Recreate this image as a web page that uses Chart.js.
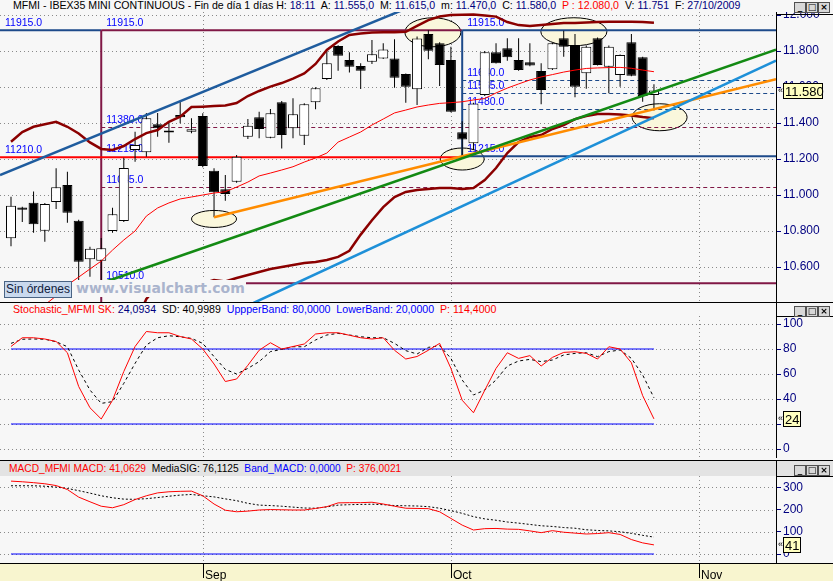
<!DOCTYPE html>
<html lang="es"><head><meta charset="utf-8">
<script src="https://cdn.jsdelivr.net/npm/chart.js@4.4.1/dist/chart.umd.min.js"></script>
<style>
html,body{margin:0;padding:0;}
body{width:833px;height:581px;position:relative;overflow:hidden;background:#f7f7f7;font-family:"Liberation Sans",Arial,sans-serif;}
canvas{position:absolute;left:0;}
#cPrice{top:12px;} #cStoch{top:316px;} #cMacd{top:476px;}
.hdr{position:absolute;font-size:10.6px;line-height:13px;white-space:pre;color:#000;}
.n{color:#000080}.r{color:#ff0000}.b{color:#0000ff}
.hl{position:absolute;height:1px;background:#000;}
.vl{position:absolute;width:1px;background:#000;}
.btn{position:absolute;width:10px;height:9px;border:1px solid #505050;background:#d8d8d8;font:bold 9px "DejaVu Sans",sans-serif;line-height:9px;text-align:center;color:#000;}
#sin{position:absolute;left:4px;top:281px;width:66px;height:15px;border:1px solid #4a6484;background:#c9d9ee;color:#10203c;font-size:12px;line-height:15px;text-align:center;}
#wm{position:absolute;left:75px;top:280px;height:17px;line-height:17px;font:bold 14px "DejaVu Sans",sans-serif;color:#aab4cd;background:#f7f7f7;padding:0 1px;}
#macdHdrBg{position:absolute;left:0;top:461px;width:833px;height:15px;background:#e3e3e3;}
</style>
</head><body>
<div id="macdHdrBg"></div>
<canvas id="cPrice" width="833" height="290"></canvas>
<canvas id="cStoch" width="833" height="142"></canvas>
<canvas id="cMacd" width="833" height="105"></canvas>

<div class="hdr" style="left:13px;top:-1px">MFMI - IBEX35 MINI CONTINUOUS - Fin de día 1 días H: <span class="n">18:11</span>  A: <span class="n">11.555,0</span>  M: <span class="n">11.615,0</span>  m: <span class="n">11.470,0</span>  C: <span class="n">11.580,0</span>  <span class="r">P : 12.080,0</span>  V: <span class="n">11.751</span>  F: <span class="n">27/10/2009</span></div>
<div class="hdr" style="left:13px;top:303px"><span class="r">Stochastic_MFMI SK:</span> <span class="n">24,0934</span>  SD: 40,9989  <span class="b">UppperBand: 80,0000</span>  <span class="b">LowerBand: 20,0000</span>  <span class="r">P: 114,4000</span></div>
<div class="hdr" style="left:9px;top:462px;font-size:10.2px"><span class="r">MACD_MFMI MACD: 41,0629</span>  MediaSIG: 76,1125  <span class="b">Band_MACD: 0,0000</span>  <span class="r">P: 376,0021</span></div>

<div class="hl" style="left:0;top:302px;width:833px"></div>
<div class="hl" style="left:776px;top:14px;width:57px"></div>
<div class="hl" style="left:776px;top:316px;width:57px"></div>
<div class="vl" style="left:776px;top:302px;height:14px"></div>
<div class="hl" style="left:0;top:460px;width:833px"></div>
<div class="hl" style="left:776px;top:476px;width:57px"></div>
<div class="vl" style="left:776px;top:460px;height:16px"></div>

<div id="sin">Sin órdenes</div>
<div id="wm">www.visualchart.com</div>

<script>
// ---------- DATA ----------
const dates = ['07/08','10/08','11/08','12/08','13/08','14/08','17/08','18/08','19/08','20/08','21/08','24/08','25/08','26/08','27/08','28/08','31/08',
 '01/09','02/09','03/09','04/09','07/09','08/09','09/09','10/09','11/09','14/09','15/09','16/09','17/09','18/09','21/09','22/09','23/09','24/09','25/09','28/09','29/09','30/09',
 '01/10','02/10','05/10','06/10','07/10','08/10','09/10','12/10','13/10','14/10','15/10','16/10','19/10','20/10','21/10','22/10','23/10','26/10','27/10'];
const monthLabels = ['Sep','Oct','Nov'];
const monthStartIdx = [17, 39, 61];

const opens  = [10760,10930,10957,10802,10961,11056,10857,10643,10635,10800,10856,11250,11237,11393,11358,11444,11352,11439,11135,11032,11074,11324,11432,11318,11515,11371,11329,11515,11644,11828,11750,11717,11741,11759,11759,11672,11587,11894,11843,11750,11348,11287,11556,11793,11815,11750,11737,11689,11698,11871,11833,11676,11871,11713,11667,11848,11765,11555];
const highs  = [10990,10935,11020,10955,11148,11129,10862,10713,10761,10929,11207,11352,11456,11456,11400,11524,11426,11454,11148,11111,11222,11422,11463,11478,11522,11537,11510,11598,11800,11832,11793,11732,11861,11843,11865,11675,11880,11915,11848,11824,11410,11512,11800,11843,11871,11871,11843,11732,11845,11913,11894,11830,11875,11830,11780,11894,11768,11615];
const lows   = [10715,10850,10790,10740,10922,10846,10528,10546,10510,10790,10850,11185,11213,11324,11291,11398,11343,11154,10876,10968,11068,11311,11315,11315,11259,11315,11278,11476,11639,11691,11680,11589,11728,11755,11596,11513,11500,11754,11606,11460,11215,11250,11550,11730,11746,11690,11715,11504,11695,11768,11543,11590,11720,11565,11602,11660,11518,11470];
const closes = [10940,10918,10837,10950,11043,10902,10629,10702,10704,10893,11150,11278,11426,11371,11347,11432,11365,11161,11015,11006,11213,11385,11367,11454,11333,11448,11504,11593,11732,11774,11713,11691,11782,11809,11652,11602,11870,11802,11722,11463,11309,11509,11793,11732,11765,11694,11720,11583,11843,11824,11602,11824,11722,11824,11778,11663,11550,11580];

const bbUpper = [11296,11350,11379,11393,11407,11379,11342,11292,11256,11250,11272,11311,11344,11361,11407,11435,11489,11491,11494,11497,11511,11550,11578,11602,11622,11647,11675,11728,11806,11853,11889,11897,11903,11904,11904,11907,11939,11972,11992,12000,12002,12003,11997,11991,11961,11944,11939,11944,11950,11956,11956,11958,11961,11963,11963,11963,11961,11957];
const bbMiddle = [10230,10290,10340,10390,10439,10500,10544,10589,10633,10694,10750,10800,10883,10928,10956,10978,10989,11000,11011,11018,11044,11072,11106,11122,11139,11157,11183,11206,11233,11294,11322,11350,11389,11422,11456,11472,11489,11500,11509,11513,11518,11528,11536,11567,11594,11617,11639,11656,11669,11683,11694,11703,11706,11708,11709,11704,11694,11685];
const bbLower = [9164,9230,9301,9387,9471,9621,9746,9886,10010,10138,10228,10289,10422,10495,10505,10521,10489,10509,10528,10520,10539,10556,10572,10589,10600,10611,10622,10628,10639,10656,10690,10780,10860,10933,10989,11017,11028,11033,11039,11039,11033,11039,11083,11150,11233,11294,11322,11333,11367,11389,11422,11439,11450,11450,11447,11442,11433,11426];

const stochK = [82,89,89,88,86,77,50,33,24,39,62,82,94,93,93,90,88,80,68,54,56,67,79,85,80,82,84,92,93,93,91,89,88,89,79,72,74,79,84.5,64.5,39,29,47,64.5,77,72.5,74.7,66.4,73.3,77.3,77.8,76.5,72,81.8,80,69,42.7,24.1];
const stochD = [84.5,87.8,88,87.8,85.8,81.8,63.2,47.2,36.5,37.9,52.5,68.5,83.2,89,90.6,89.8,88.5,84.5,73.9,63.7,60,64.5,69.9,77.9,79.7,81.8,81.8,87.2,91.2,92.5,91.2,89.8,89,89,84.5,78.7,76,81.3,82.7,72.5,55.2,43.2,47.2,55.2,66.4,70.4,71.7,69.9,71.2,75.2,76.5,77,73.9,77.9,79.2,72.5,59.2,41];
const stochBands = [80, 20];

const macdLine = [328,325,321,316,308,290,256,235,215,208,222,245,262,275,280,282,283,262,225,197,190,193,198,200,199,198,198,205,213,230,231,231,233,225,215,206,205,204,190,160,130,108,114,115,112,111,104,96,105,98,94,90,92,96,88,65,50,41];
const macdSignal = [307,307,307,305,301,295,285,274,262,253,247,246,249,254,260,265,268,262,257,248,240,228,220,218,215,211,207,206,212,220,222,223,224,222,218,217,216,213,206,195,183,168,158,152,144,139,133,127,124,119,116,109,106,104,100,93,84,76];
const macdBand = 0;

// axis tick values
const priceTicks = [10600,10800,11000,11200,11400,11600,11800,12000];
const stochTicks = [0,20,40,60,80,100];
const macdTicks = [0,100,200,300];

// drawn levels (prices) and their anchor days
const anchorA = 8;   // 19/08
const anchorB = 40;  // 02/10
const levelTop = 11915, levelRed = 11210, levelBoxLow = 11215, levelLow = 10510;
const levelsDashA = [11380, 11045];
const levelsDashB = [11640, 11565, 11480];
// trend lines [index, price]
const trendBlue = [[-0.975, 11111], [35, 12035]];
const trendLightBlue = [[21.5, 10400], [67.82, 11747]];
const trendGreen = [[8, 10510], [67.82, 11807]];
const trendOrange = [[18, 10876], [67.82, 11643]];
// marked zones (index, price)
const zoneIdx = [18, 40, 37.4, 49.9, 57.5];
const zonePrice = [10867, 11200, 11904, 11907, 11432];

// ---------- STYLE ----------
const FONT = '"Liberation Sans", Arial, sans-serif';
const X_MIN = -0.975, X_MAX = 67.82;
const NAVY = '#1d4a8a', MAROON = '#801846', BAND = '#8b0000';
const ZONE_R = [[22.5,8.5],[22,11],[28,14.5],[33,14],[27.5,13.5]];
const N = closes.length;
const series = arr => arr.map((v,i)=>({x:i,y:v}));
const seg2 = p => p.map(q=>({x:q[0],y:q[1]}));

function xScale(){ return {type:'linear', min:X_MIN, max:X_MAX, display:false, offset:false}; }
function yAxis(min,max,tickVals,fmt){
  return {type:'linear', position:'right', min, max,
    afterBuildTicks(s){ s.ticks = tickVals.map(v=>({value:v})); },
    afterFit(s){ s.width = 57; s.paddingTop = 0; s.paddingBottom = 0; },
    grid:{drawOnChartArea:false, drawTicks:true, tickLength:5, tickColor:'#000080', tickWidth:1},
    border:{display:true, color:'#000', width:1},
    ticks:{color:'#000080', padding:2, font:{family:FONT,size:12}, callback: fmt}};
}
function drawDots(ctx,a,x,y){
  ctx.save();
  ctx.strokeStyle='#8a8a8a'; ctx.lineWidth=1; ctx.setLineDash([1,3]);
  y.ticks.forEach(t=>{ const py=Math.round(y.getPixelForValue(t.value))+0.5;
    ctx.beginPath(); ctx.moveTo(a.left,py); ctx.lineTo(a.right,py); ctx.stroke(); });
  monthStartIdx.forEach(i=>{ const px=Math.round(x.getPixelForValue(i))+0.5;
    ctx.beginPath(); ctx.moveTo(px,a.top); ctx.lineTo(px,a.bottom); ctx.stroke(); });
  ctx.restore();
}
function valueBox(chart, v, text, w){
  const {ctx, scales:{y}, chartArea:a} = chart;
  const py = Math.round(y.getPixelForValue(v));
  ctx.save();
  ctx.fillStyle='#ffffc0'; ctx.strokeStyle='#000'; ctx.lineWidth=1;
  ctx.fillRect(a.right+7, py-8, w, 16); ctx.strokeRect(a.right+7.5, py-7.5, w-1, 15);
  ctx.fillStyle='#000'; ctx.font='13px '+FONT; ctx.textBaseline='middle'; ctx.textAlign='left';
  ctx.fillText(text, a.right+9, py+1);
  ctx.font='9px '+FONT; ctx.fillText('«', a.right+2, py);
  ctx.restore();
}
const common = {responsive:false, animation:false, events:[], layout:{padding:0},
  plugins:{legend:{display:false}, tooltip:{enabled:false}},
  elements:{point:{radius:0}, line:{tension:0}}};

// ---------- PRICE ----------
const priceDeco = {
  id:'priceDeco',
  beforeDatasetsDraw(chart){
    const {ctx, chartArea:a, scales:{x,y}} = chart;
    drawDots(ctx,a,x,y);
    ctx.save();
    ctx.beginPath(); ctx.rect(a.left,a.top,a.right-a.left,a.bottom-a.top); ctx.clip();
    const X = i=>x.getPixelForValue(i), Y = v=>y.getPixelForValue(v);
    zoneIdx.forEach((i,k)=>{
      ctx.beginPath(); ctx.ellipse(X(i),Y(zonePrice[k]),ZONE_R[k][0],ZONE_R[k][1],0,0,Math.PI*2);
      ctx.fillStyle='#faf7dc'; ctx.fill(); ctx.strokeStyle='#000'; ctx.lineWidth=1; ctx.stroke();
    });
    const line=(x0,y0,x1,y1,c,w,d)=>{ctx.beginPath();ctx.setLineDash(d||[]);ctx.strokeStyle=c;ctx.lineWidth=w;ctx.moveTo(x0,y0);ctx.lineTo(x1,y1);ctx.stroke();};
    const xa=X(anchorA), xb=X(anchorB);
    levelsDashA.forEach(v=>line(xa,Math.round(Y(v))+0.5,a.right,Math.round(Y(v))+0.5,MAROON,1,[4,3]));
    levelsDashB.forEach(v=>line(xb,Math.round(Y(v))+0.5,a.right,Math.round(Y(v))+0.5,NAVY,1,[4,3]));
    line(a.left,Y(levelTop),xa,Y(levelTop),NAVY,2);
    line(xb,Y(levelTop),a.right,Y(levelTop),NAVY,2);
    line(xa,Y(levelTop),xb,Y(levelTop),MAROON,2);
    line(xa,Y(levelTop),xa,a.bottom,MAROON,2);
    line(xa,Y(levelLow),a.right,Y(levelLow),MAROON,2);
    line(a.left,Y(levelRed),xb,Y(levelRed),'#ff0000',2);
    line(xb,Y(levelBoxLow),a.right,Y(levelBoxLow),NAVY,2);
    line(xb,Y(levelTop),xb,Y(levelBoxLow),NAVY,2);
    ctx.setLineDash([]);
    ctx.fillStyle='#0000ff'; ctx.font='10.5px '+FONT; ctx.textBaseline='alphabetic'; ctx.textAlign='left';
    const lab=(px,v)=>ctx.fillText(v.toFixed(1), px+5, Y(v)-4);
    lab(a.left,levelTop); lab(a.left,levelRed);
    [levelTop,levelsDashA[0],levelBoxLow,levelsDashA[1],levelLow].forEach(v=>lab(xa,v));
    [levelTop,...levelsDashB,levelBoxLow].forEach(v=>lab(xb,v));
    ctx.restore();
  },
  afterDraw(chart){ valueBox(chart, closes[N-1], (closes[N-1]/1000).toFixed(3), 40); }
};
const trendDs = (pts,color)=>({type:'line', data:seg2(pts), borderColor:color, borderWidth:2.5, order:0});
new Chart(document.getElementById('cPrice'), {
  type:'line',
  data:{labels:dates, datasets:[
    trendDs(trendBlue,'#1f5c9e'),
    trendDs(trendLightBlue,'#1e90d8'),
    trendDs(trendGreen,'#138a13'),
    trendDs(trendOrange,'#ff8c00'),
    {type:'line', label:'Media', data:series(bbMiddle), borderColor:'#ff0000', borderWidth:1, order:1},
    {type:'line', label:'Banda sup.', data:series(bbUpper), borderColor:BAND, borderWidth:2.5, order:1},
    {type:'line', label:'Banda inf.', data:series(bbLower), borderColor:BAND, borderWidth:2.5, order:1},
    {type:'bar', label:'Cuerpo', data:dates.map((d,i)=>({x:i,y:[opens[i],closes[i]]})),
      backgroundColor:dates.map((d,i)=>closes[i]>=opens[i]?'#ffffff':'#000000'),
      borderColor:'#000', borderWidth:1, borderSkipped:false, barThickness:10, grouped:false, inflateAmount:0, order:2},
    {type:'bar', label:'Mecha', data:dates.map((d,i)=>({x:i,y:[lows[i],highs[i]]})),
      backgroundColor:'#000', borderWidth:0, barThickness:1, grouped:false, inflateAmount:0, order:3}
  ]},
  options:Object.assign({}, common, {scales:{x:xScale(), y:yAxis(10405.6, 12016.7, priceTicks, v=>(v/1000).toFixed(3))}}),
  plugins:[priceDeco]
});

// ---------- STOCHASTIC ----------
const stochDeco = {id:'stochDeco',
  beforeDatasetsDraw(chart){ drawDots(chart.ctx, chart.chartArea, chart.scales.x, chart.scales.y); },
  afterDraw(chart){ valueBox(chart, stochK[N-1], String(Math.round(stochK[N-1])), 18); }};
new Chart(document.getElementById('cStoch'), {
  type:'line',
  data:{datasets:[
    {label:'SK', data:series(stochK), borderColor:'#ff0000', borderWidth:1, order:0},
    {label:'SD', data:series(stochD), borderColor:'#000', borderWidth:1, borderDash:[3,3], order:1},
    {label:'UpperBand', data:[{x:0,y:stochBands[0]},{x:N-1,y:stochBands[0]}], borderColor:'#0000ff', borderWidth:1, order:2},
    {label:'LowerBand', data:[{x:0,y:stochBands[1]},{x:N-1,y:stochBands[1]}], borderColor:'#0000ff', borderWidth:1, order:2}
  ]},
  options:Object.assign({}, common, {scales:{x:xScale(), y:yAxis(-7.2, 106.4, stochTicks, v=>String(v))}}),
  plugins:[stochDeco]
});

// ---------- MACD ----------
const macdDeco = {id:'macdDeco',
  beforeDatasetsDraw(chart){ drawDots(chart.ctx, chart.chartArea, chart.scales.x, chart.scales.y); },
  afterDraw(chart){
    const {ctx, chartArea:a, scales:{x}} = chart;
    valueBox(chart, macdLine[N-1], String(Math.round(macdLine[N-1])), 18);
    ctx.save();
    ctx.fillStyle='#f8f5cf'; ctx.fillRect(0, a.bottom, chart.width, chart.height-a.bottom);
    ctx.fillStyle='#000'; ctx.fillRect(0, a.bottom, chart.width, 1);
    ctx.font='12px '+FONT; ctx.textBaseline='alphabetic'; ctx.textAlign='left';
    monthStartIdx.forEach((i,k)=>{
      const px=Math.round(x.getPixelForValue(i));
      ctx.fillRect(px, a.bottom, 1, 15);
      ctx.fillText(monthLabels[k], px+2, a.bottom+16);
    });
    ctx.restore();
  }};
new Chart(document.getElementById('cMacd'), {
  type:'line',
  data:{datasets:[
    {label:'MACD', data:series(macdLine), borderColor:'#ff0000', borderWidth:1, order:0},
    {label:'MediaSIG', data:series(macdSignal), borderColor:'#000', borderWidth:1, borderDash:[2,2], order:1},
    {label:'Band_MACD', data:[{x:0,y:macdBand},{x:N-1,y:macdBand}], borderColor:'#0000ff', borderWidth:1, order:2}
  ]},
  options:Object.assign({}, common, {layout:{padding:{bottom:18}}, scales:{x:xScale(), y:yAxis(-40.5, 351, macdTicks, v=>String(v))}}),
  plugins:[macdDeco]
});

[2, 306, 465].forEach(t=>{
  ['_','□','×'].forEach((g,k)=>{
    const d=document.createElement('div'); d.className='btn';
    d.style.left=(794+k*12)+'px'; d.style.top=t+'px'; d.textContent=g;
    document.body.appendChild(d);
  });
});
</script>
</body></html>
